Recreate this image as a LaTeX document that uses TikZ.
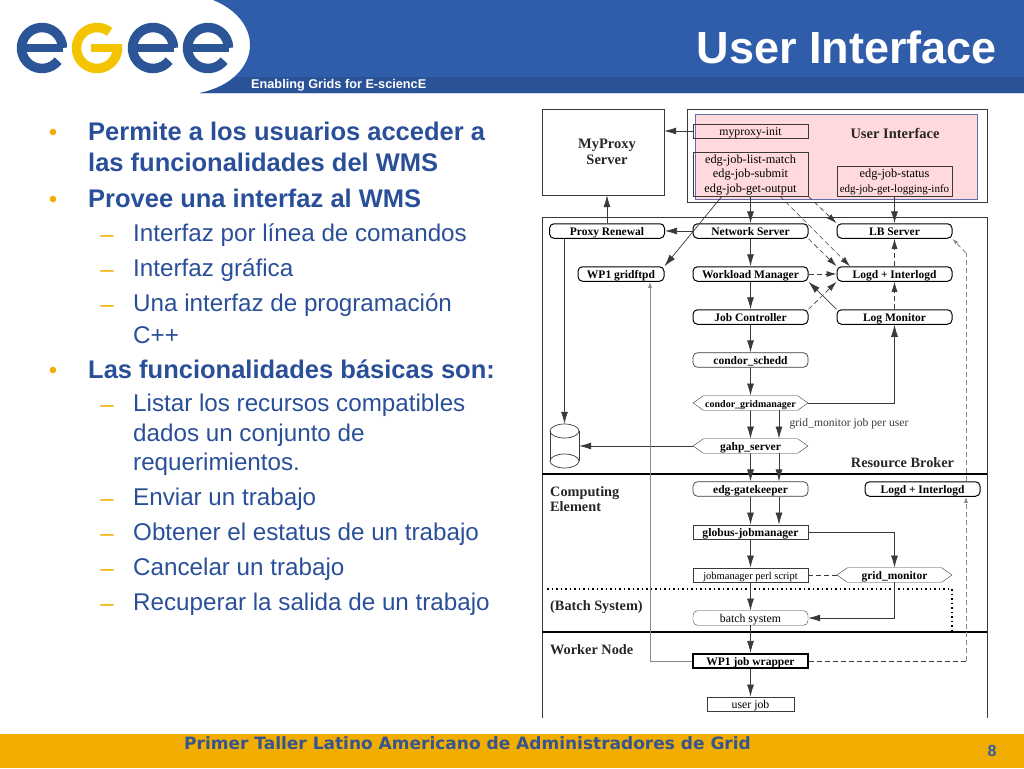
\documentclass[tikz,border=0pt]{standalone}
\usepackage{fontspec}
\setmainfont{Liberation Serif}
\newfontfamily\slidefont{Liberation Sans}
\newfontfamily\footfont{DejaVu Sans}
\usetikzlibrary{positioning,shapes.symbols,arrows.meta}
\definecolor{egeeblue}{HTML}{2F5DAA}
\definecolor{egeeband}{HTML}{2A5296}
\definecolor{egeegold}{HTML}{F2AE00}
\definecolor{egeeyellow}{HTML}{F5C400}
\definecolor{logoblue}{HTML}{2B5596}
\definecolor{listblue}{HTML}{2A4F99}
\definecolor{footblue}{HTML}{36558F}
\definecolor{uipink}{HTML}{FFD9DC}
\definecolor{uiedge}{HTML}{5F70A8}
\definecolor{inkgray}{HTML}{3A3A3A}
\definecolor{midgray}{HTML}{8A8A8A}
\tikzset{
  boxnode/.style={draw=inkgray, rectangle, text centered, minimum width=115pt, minimum height=14.5pt, inner sep=0pt, text height=10pt, text depth=2pt, text=black, font=\fontsize{11.8}{12}\selectfont},
  roundnode/.style={boxnode, rounded corners=4.5pt},
  srvnode/.style={roundnode, draw=black, line width=1pt, font=\fontsize{11.5}{12}\selectfont\bfseries},
  hexnode/.style={boxnode, signal, signal to=east and west, signal pointer angle=70, font=\fontsize{11.5}{12}\selectfont\bfseries},
  headnode/.style={font=\fontsize{14.3}{15}\selectfont\bfseries, align=left, inner sep=0pt, text=black!85},
  flowdash/.style={dash pattern=on 5pt off 3pt},
  arrowstyle/.style={-{Latex[length=12pt, width=7pt]}, draw=inkgray, line width=.7pt},
  dasharrow/.style={-{Latex[length=10pt, width=6pt]}, draw=inkgray, flowdash, line width=.6pt},
  grayarrow/.style={-{Latex[length=6pt, width=4pt]}, draw=midgray, line width=.9pt},
  graydash/.style={-{Latex[length=6pt, width=4pt]}, draw=midgray, flowdash, line width=.9pt},
  divider/.style={draw=black, line width=1.6pt},
  frameline/.style={draw=inkgray, line width=.7pt},
  itemone/.style={anchor=west, inner sep=0pt, text=listblue, font=\slidefont\fontsize{25.5}{27}\selectfont\bfseries},
  itemtwo/.style={anchor=west, inner sep=0pt, yshift=-1.5pt, text=listblue, font=\slidefont\fontsize{24.2}{26}\selectfont},
  dotone/.style={anchor=center, inner sep=0pt, yshift=-3.5pt, text=egeegold, font=\slidefont\fontsize{24}{26}\selectfont},
  dashone/.style={dotone, yshift=-2pt, xshift=-3pt},
  logostroke/.style={line width=9.5pt, line cap=butt},
}
\begin{document}
\begin{tikzpicture}[x=1pt, y=-1pt]
  \useasboundingbox (0,0) rectangle (1024,768);

  % Header and footer bands
  \fill[egeeblue] (213,0) .. controls (238,10) and (250,28) .. (250,45) .. controls (250,66) and (232,86) .. (200,93) -- (1024,93) -- (1024,0) -- cycle;
  \fill[egeeband] (236,77) .. controls (228,84) and (215,90) .. (200,93) -- (1024,93) -- (1024,77) -- cycle;
  \fill[egeegold] (0,734) rectangle (1024,768);

  % The logo
  \draw[logostroke, logoblue] (42,48) ++(-38:20.5pt) arc[start angle=-38, end angle=-360, radius=20.5pt];
  \draw[logostroke, logoblue, line width=8pt] (22,48) -- (63,48);
  \draw[logostroke, egeeyellow] (97,48) ++(52:20.5pt) arc[start angle=52, end angle=360, radius=20.5pt];
  \draw[logostroke, egeeyellow, line width=8pt] (91,48) -- (122,48);
  \draw[logostroke, logoblue] (153,48) ++(-38:20.5pt) arc[start angle=-38, end angle=-360, radius=20.5pt];
  \draw[logostroke, logoblue, line width=8pt] (133,48) -- (174,48);
  \draw[logostroke, logoblue] (208,48) ++(-38:20.5pt) arc[start angle=-38, end angle=-360, radius=20.5pt];
  \draw[logostroke, logoblue, line width=8pt] (188,48) -- (229,48);

  % Header and footer texts
  \node (title) [anchor=east, inner sep=0pt, text=white, font=\slidefont\fontsize{45}{48}\selectfont\bfseries] at (997,47) {User Interface};
  \node (motto) [anchor=west, inner sep=0pt, text=white, font=\slidefont\fontsize{12.7}{14}\selectfont\bfseries] at (251,85) {Enabling Grids for E-sciencE};
  \node (foot) [anchor=west, inner sep=0pt, text=footblue, font=\footfont\fontsize{17}{18}\selectfont\bfseries] at (184,743) {Primer Taller Latino Americano de Administradores de Grid};
  \node (page) [anchor=center, inner sep=0pt, text=egeeblue, font=\slidefont\fontsize{16}{18}\selectfont\bfseries] at (992,751) {8};

  % The list on the left
  \node (dota) [dotone] at (53,131) {•};
  \node (texta) [itemone] at (88,131) {Permite a los usuarios acceder a};
  \node (textb) [itemone] at (88,162) {las funcionalidades del WMS};
  \node (dotb) [dotone] at (53,198) {•};
  \node (textc) [itemone] at (88,198) {Provee una interfaz al WMS};
  \node (dashc) [dashone] at (110,234) {–};
  \node (textd) [itemtwo] at (133,234) {Interfaz por línea de comandos};
  \node (dashd) [dashone] at (110,269) {–};
  \node (texte) [itemtwo] at (133,269) {Interfaz gráfica};
  \node (dashe) [dashone] at (110,304) {–};
  \node (textf) [itemtwo] at (133,304) {Una interfaz de programación};
  \node (textg) [itemtwo] at (133,334) {C++};
  \node (dotc) [dotone] at (53,369) {•};
  \node (texth) [itemone] at (88,369) {Las funcionalidades básicas son:};
  \node (dashh) [dashone] at (110,404) {–};
  \node (texti) [itemtwo] at (133,404) {Listar los recursos compatibles};
  \node (textj) [itemtwo] at (133,434) {dados un conjunto de};
  \node (textk) [itemtwo] at (133,463) {requerimientos.};
  \node (dashk) [dashone] at (110,498) {–};
  \node (textl) [itemtwo] at (133,498) {Enviar un trabajo};
  \node (dashl) [dashone] at (110,533) {–};
  \node (textm) [itemtwo] at (133,533) {Obtener el estatus de un trabajo};
  \node (dashm) [dashone] at (110,568) {–};
  \node (textn) [itemtwo] at (133,568) {Cancelar un trabajo};
  \node (dashn) [dashone] at (110,603) {–};
  \node (texto) [itemtwo] at (133,603) {Recuperar la salida de un trabajo};

  % Frames of the diagram
  \draw[frameline] (542,718) -- (542,217) -- (987,217) -- (987,718);
  \draw[frameline] (687,109) rectangle (987,202);
  \fill[uipink] (695,114) rectangle (977,199);
  \draw[uiedge, line width=.9pt] (695,114) rectangle (977,199);
  \draw[divider] (542,474) -- (987,474);
  \draw[divider] (542,632) -- (987,632);
  \draw[black, dash pattern=on 1.5pt off 3pt, line width=1.4pt] (547,589) -- (952,589) -- (952,630);

  % Boxes at the top
  \node (MyProxy) [boxnode, minimum width=122pt, minimum height=86pt] at (603,152) {};
  \node (MyProxyText) [headnode, align=center, font=\fontsize{14.5}{16}\selectfont\bfseries] at (607,152) {MyProxy\\Server};
  \node (UItitle) [headnode, font=\fontsize{14.5}{15}\selectfont\bfseries] at (895,133) {User Interface};
  \node (ProxyInit) [boxnode] at (750.5,131) {myproxy-init};
  \node (JobCmds) [boxnode, minimum height=44pt, text height=38pt, align=center, font=\fontsize{12.3}{14.5}\selectfont] at (750.5,174) {edg-job-list-match\\edg-job-submit\\edg-job-get-output};
  \node (StatusCmds) [boxnode, minimum height=30pt, text height=24pt, align=center, font=\fontsize{11}{14.5}\selectfont] at (894.5,181) {{\fontsize{12.3}{14.5}\selectfont edg-job-status}\\edg-job-get-logging-info};

  % Resource broker
  \node (ProxyRenewal) [srvnode] at (607,231) {Proxy Renewal};
  \node (NetServer) [srvnode] at (750.5,231) {Network Server};
  \node (LBServer) [srvnode] at (894.5,231) {LB Server};
  \node (GridFtpd) [srvnode, minimum width=86pt] at (621,274) {WP1 gridftpd};
  \node (WorkManager) [srvnode] at (750.5,274) {Workload Manager};
  \node (Logd) [srvnode] at (894.5,274) {Logd + Interlogd};
  \node (JobControl) [srvnode] at (750.5,317) {Job Controller};
  \node (LogMonitor) [srvnode] at (894.5,317) {Log Monitor};
  \node (Schedd) [srvnode, draw=inkgray, line width=.7pt] at (750.5,360) {condor\_schedd};
  \node (GridManager) [hexnode, font=\fontsize{10}{11}\selectfont\bfseries] at (750.5,403) {condor\_gridmanager};
  \node (Gahp) [hexnode] at (750.5,446) {gahp\_server};
  \node (JobUser) [inner sep=0pt, text=inkgray, font=\fontsize{11.6}{12}\selectfont] at (849,424) {grid\_monitor job per user};
  \node (RBtitle) [headnode] at (902.5,463) {Resource Broker};
  \node (Store) [minimum width=29pt, minimum height=44pt, inner sep=0pt] at (564.5,446) {};
  \draw[inkgray, line width=.7pt] (Store.center) ++(0,-15) ellipse [x radius=14.5pt, y radius=7pt];
  \draw[inkgray, line width=.7pt] (Store.center) ++(0,15) ellipse [x radius=14.5pt, y radius=7pt];
  \draw[inkgray, line width=.7pt] (550,431) -- (550,461);
  \draw[inkgray, line width=.7pt] (579,431) -- (579,461);

  % Computing element
  \node (CEtitle) [headnode, anchor=north west] at (550,486.5) {Computing\\Element};
  \node (Gatekeeper) [srvnode, draw=inkgray, line width=.7pt] at (750.5,489) {edg-gatekeeper};
  \node (LogdCE) [srvnode] at (922.5,489) {Logd + Interlogd};
  \node (JobManager) [boxnode, font=\fontsize{11.6}{12}\selectfont\bfseries] at (750.5,532) {globus-jobmanager};
  \node (PerlScript) [boxnode, font=\fontsize{10.5}{12}\selectfont] at (750.5,575) {jobmanager perl script};
  \node (GridMonitor) [hexnode] at (894.5,575) {grid\_monitor};

  % Batch system and worker node
  \node (BStitle) [headnode, anchor=west] at (550,607.5) {(Batch System)};
  \node (BatchSys) [roundnode] at (750.5,618) {batch system};
  \node (WNtitle) [headnode, anchor=west] at (550,650) {Worker Node};
  \node (Wrapper) [boxnode, draw=black, line width=1.6pt, font=\fontsize{11.5}{12}\selectfont\bfseries] at (750.5,661) {WP1 job wrapper};
  \node (UserJob) [boxnode, minimum width=87pt] at (750.5,704) {user job};

  % Helper points for bent connectors
  \coordinate (Left) at (650,661);
  \coordinate (Right) at (966,661);
  \coordinate (RightTop) at (966,253);

  % Draw arrows
  \draw[arrowstyle] (ProxyInit) -- (MyProxy.east |- ProxyInit);
  \draw[arrowstyle] (ProxyRenewal) -- (MyProxy.south -| ProxyRenewal);
  \draw[arrowstyle] (NetServer) -- (ProxyRenewal);
  \draw[arrowstyle] (JobCmds) -- (NetServer);
  \draw[arrowstyle] (StatusCmds) -- (LBServer);
  \draw[arrowstyle] (JobCmds.south -| 722,0) -- (GridFtpd.north east);
  \draw[dasharrow] (JobCmds.south -| 780,0) -- (Logd.north -| 850,0);
  \draw[dasharrow] (JobCmds.south east) -- (LBServer.north west);
  \draw[dasharrow] (NetServer.south east) -- (Logd.north west);
  \draw[dasharrow] (WorkManager) -- (Logd);
  \draw[dasharrow] (JobControl.north east) -- (Logd.south west);
  \draw[arrowstyle] (LogMonitor.north west) -- (WorkManager.south east);
  \draw[dasharrow] (LogMonitor) -- (Logd);
  \draw[dasharrow] (Logd) -- (LBServer);
  \draw[arrowstyle] (NetServer) -- (WorkManager);
  \draw[arrowstyle] (WorkManager) -- (JobControl);
  \draw[arrowstyle] (JobControl) -- (Schedd);
  \draw[arrowstyle] (Schedd) -- (GridManager);
  \draw[arrowstyle] (GridManager) -- (Gahp);
  \draw[arrowstyle] ([xshift=28.5pt]GridManager.south) -- ([xshift=28.5pt]Gahp.north);
  \draw[arrowstyle] (GridManager) -| (LogMonitor);
  \draw[arrowstyle] (Gahp) -- (Store.east |- Gahp);
  \draw[arrowstyle] (ProxyRenewal.south -| Store) -- (Store.north);
  \draw[arrowstyle] (Gahp) -- (Gatekeeper);
  \draw[arrowstyle] ([xshift=28.5pt]Gahp.south) -- ([xshift=28.5pt]Gatekeeper.north);
  \draw[arrowstyle] (Gatekeeper) -- (JobManager);
  \draw[arrowstyle] ([xshift=28.5pt]Gatekeeper.south) -- ([xshift=28.5pt]JobManager.north);
  \draw[arrowstyle] (JobManager) -| (GridMonitor);
  \draw[arrowstyle] (JobManager) -- (PerlScript);
  \draw[flowdash, draw=inkgray, line width=.6pt] (PerlScript) -- (GridMonitor);
  \draw[arrowstyle] (PerlScript) -- (BatchSys);
  \draw[arrowstyle] (GridMonitor) |- (BatchSys);
  \draw[arrowstyle] (BatchSys) -- (Wrapper);
  \draw[arrowstyle] (Wrapper) -- (UserJob);
  \draw[grayarrow] (Wrapper) -- (Left) -- (GridFtpd.south -| Left);
  \draw[flowdash, draw=inkgray, line width=.6pt] (Wrapper) -- (Right);
  \draw[graydash] (Right) -- (LogdCE.south -| Right);
  \draw[graydash, -] (LogdCE.north -| Right) -- (RightTop);
  \draw[graydash] (RightTop) -- (LBServer.south east);
\end{tikzpicture}
\end{document}
